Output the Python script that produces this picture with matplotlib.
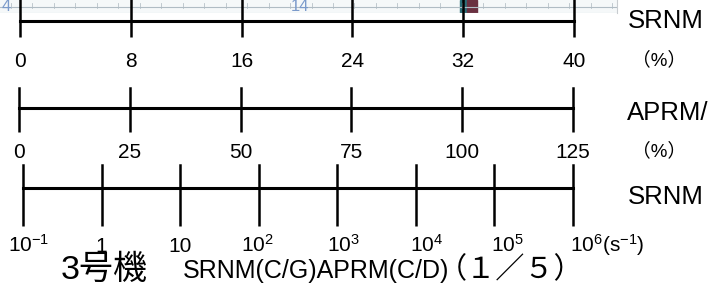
import matplotlib
matplotlib.use("Agg")
import matplotlib.pyplot as plt
from matplotlib import transforms

plt.rcParams['font.family'] = ['Liberation Sans', 'Noto Sans CJK JP', 'DejaVu Sans']
plt.rcParams['mathtext.fontset'] = 'custom'
plt.rcParams['mathtext.rm'] = 'Liberation Sans'
plt.rcParams['mathtext.it'] = 'Liberation Sans'

# scale values
srnm_pct = [0, 8, 16, 24, 32, 40]
aprm_pct = [0, 25, 50, 75, 100, 125]
srnm_cps = [1e-1, 1, 10, 1e2, 1e3, 1e4, 1e5, 1e6]
srnm_cps_labels = ['$10^{-1}$', '1', '10', '$10^{2}$', '$10^{3}$',
                   '$10^{4}$', '$10^{5}$', '$10^{6}$(s$^{-1}$)']
# chart paper strip printed numbers (in SRNM % units)
paper_marks = ['4', '14']
paper_mark_pos = [-1.0, 20.2]
pen_mark = [31.8, 33.0]

title_unit = '3号機'
title_name = 'SRNM(C/G)APRM(C/D)'
title_page = '（１／５）'

W, H = 710, 293
fig = plt.figure(figsize=(W / 100, H / 100), dpi=100)


def px(x, y):
    return x / W, 1 - y / H


def scale_axis(left, right, top, line, bottom):
    ax = fig.add_axes([left / W, 1 - line / H, (right - left) / W, (line - top) / H])
    ax.set_facecolor('none')
    for s in ['top', 'left', 'right']:
        ax.spines[s].set_visible(False)
    ax.spines['bottom'].set_linewidth(2.2)
    ax.set_yticks([])
    ax.tick_params(axis='x', which='major', direction='out',
                   length=(bottom - line) * 0.72, width=1.8, color='black',
                   labelsize=15)
    ax.tick_params(axis='x', which='minor', length=0)
    ax.grid(axis='x', which='major', color='black', linewidth=1.8, clip_on=False)
    ax.set_axisbelow(False)
    return ax


# chart paper strip at the top
strip = fig.add_axes([0, 1 - 13 / H, 617 / W, 13 / H])
strip.set_xlim(-20 / 554 * 40, (617 - 20) / 554 * 40)
strip.set_ylim(0, 1)
strip.set_facecolor('#f5f8f9')
for s in strip.spines.values():
    s.set_visible(False)
strip.spines['right'].set_visible(True)
strip.spines['right'].set_color('#c8ccd0')
strip.set_xticks([])
strip.set_yticks([])
for v in range(-1, 44):
    strip.axvline(v * 1.55 + 0.9, 0.35, 0.8, color='#b8c2c8', lw=0.6)
strip.axhline(0.45, color='#b0bcc4', lw=0.8)
strip.axhline(0.0, color='#d0d6da', lw=0.8)
for lab, v in zip(paper_marks, paper_mark_pos):
    strip.text(v, 0.5, lab, color='#7c9bcb', fontsize=12, ha='center', va='center')
strip.axvspan(pen_mark[0], pen_mark[0] + 0.5, 0, 1, color='#2a6f78')
strip.axvspan(pen_mark[0] + 0.5, pen_mark[1], 0, 1, color='#6a3040')

# SRNM % scale
ax1 = scale_axis(20, 574, 0, 21, 37)
ax1.set_xlim(srnm_pct[0], srnm_pct[-1])
ax1.set_xticks(srnm_pct)
ax1.set_xticklabels([str(v) for v in srnm_pct])
ax1.tick_params(axis='x', pad=10.5)

# APRM % scale
ax2 = scale_axis(19, 573, 88, 108, 132)
ax2.set_xlim(aprm_pct[0], aprm_pct[-1])
ax2.set_xticks(aprm_pct)
ax2.set_xticklabels([str(v) for v in aprm_pct])
ax2.tick_params(axis='x', pad=8)

# SRNM count rate (log) scale
ax3 = scale_axis(23, 573, 165, 188, 226)
ax3.set_xscale('log')
ax3.set_xlim(srnm_cps[0], srnm_cps[-1])
ax3.set_xticks(srnm_cps)
ax3.set_xticklabels([''] * len(srnm_cps))
ax3.tick_params(axis='x', which='minor', length=0)
base = transforms.blended_transform_factory(ax3.transData, ax3.transAxes)
# left offsets (px) of the power labels, as printed on the sheet
shift = {0: -15, 3: -18, 4: -10, 5: -6, 6: -3, 7: -3}
for i, (v, lab) in enumerate(zip(srnm_cps, srnm_cps_labels)):
    if i in shift:
        tr = base + transforms.ScaledTranslation(shift[i] / 100, -64 / 100, fig.dpi_scale_trans)
        ax3.text(v, 0, lab, transform=tr, ha='left', va='baseline', fontsize=15)
    else:
        tr = base + transforms.ScaledTranslation(0, -64 / 100, fig.dpi_scale_trans)
        ax3.text(v, 0, lab, transform=tr, ha='center', va='baseline', fontsize=15)

# right-hand names
fig.text(*px(628, 21.5), 'SRNM', fontsize=18.5, ha='left', va='center')
fig.text(*px(659, 60), '（%）', fontsize=13.5, ha='center', va='center')
fig.text(*px(627, 112.5), 'APRM/', fontsize=18.5, ha='left', va='center')
fig.text(*px(659, 151), '（%）', fontsize=13.5, ha='center', va='center')
fig.text(*px(628, 197), 'SRNM', fontsize=18.5, ha='left', va='center')

# caption
fig.text(*px(61, 279), title_unit, fontsize=24.5, ha='left', va='baseline')
fig.text(*px(183, 278), title_name, fontsize=18, ha='left', va='baseline')
fig.text(*px(438, 278), title_page, fontsize=21, ha='left', va='baseline')

fig.savefig('out.png', dpi=100)
